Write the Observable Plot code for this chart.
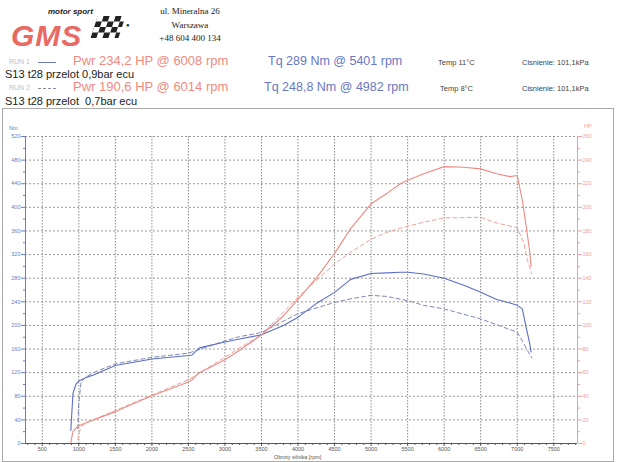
<!DOCTYPE html>
<html>
<head>
<meta charset="utf-8">
<script src="https://cdn.jsdelivr.net/npm/d3@7"></script>
<script src="https://cdn.jsdelivr.net/npm/@observablehq/plot@0.6"></script>
<style>
  html, body { margin: 0; padding: 0; background: #fff; }
  #page { position: relative; width: 620px; height: 462px; overflow: hidden; font-family: "Liberation Sans", Arial, sans-serif; }
  .abs { position: absolute; white-space: nowrap; }
  .addr { font-family: "Liberation Serif", serif; font-size: 9px; color: #222; text-align: center; width: 120px; }
  .run { font-size: 7px; color: #c0c0c0; }
  .pwr { font-size: 13px; color: #ef8a80; }
  .tq { font-size: 12.5px; color: #6878c0; }
  .small { font-size: 7.5px; color: #444; }
  .desc { font-size: 11px; color: #222; }
  #frame { position: absolute; left: 2px; top: 108px; width: 610px; height: 352px; border: 1px solid #aaa; }
  #chart { position: absolute; left: 0; top: 110px; }
  .flag { position: absolute; left: 94px; top: 16px; width: 28px; height: 22px;
    background: repeating-conic-gradient(#222 0 25%, #fff 0 50%) 0 0 / 12px 11px;
    transform: skewX(-18deg); }
</style>
</head>
<body>
<div id="page">
  <div class="abs" style="left:48px;top:7px;font-size:8px;font-style:italic;font-weight:bold;color:#222;">motor sport</div>
  <div class="abs" style="left:11px;top:21px;font-size:30px;line-height:30px;font-style:italic;font-weight:bold;color:#e86a62;letter-spacing:1px;">GMS</div>
  <div class="flag"></div>
  <div class="abs" style="left:126px;top:22px;font-size:6px;color:#222;">●</div>
  <div class="abs addr" style="left:130px;top:6px;">ul. Mineralna 26</div>
  <div class="abs addr" style="left:130px;top:20px;">Warszawa</div>
  <div class="abs addr" style="left:130px;top:33px;">+48 604 400 134</div>

  <div class="abs run" style="left:9px;top:58px;">RUN 1</div>
  <div class="abs" style="left:38px;top:62px;width:18px;border-top:1px solid #6878c0;"></div>
  <div class="abs pwr" style="left:73px;top:53px;">Pwr 234,2 HP @ 6008 rpm</div>
  <div class="abs tq" style="left:268px;top:54px;">Tq 289 Nm @ 5401 rpm</div>
  <div class="abs small" style="left:438px;top:58px;">Temp 11°C</div>
  <div class="abs small" style="left:522px;top:58px;">Cisnienie: 101,1kPa</div>
  <div class="abs desc" style="left:5px;top:68px;">S13 t28 przelot 0,9bar ecu</div>

  <div class="abs run" style="left:9px;top:84px;">RUN 2</div>
  <div class="abs" style="left:38px;top:88px;width:18px;border-top:1px dashed #8a8aa8;"></div>
  <div class="abs pwr" style="left:73px;top:79px;">Pwr 190,6 HP @ 6014 rpm</div>
  <div class="abs tq" style="left:264px;top:80px;">Tq 248,8 Nm @ 4982 rpm</div>
  <div class="abs small" style="left:440px;top:84px;">Temp 8°C</div>
  <div class="abs small" style="left:522px;top:84px;">Cisnienie: 101,1kPa</div>
  <div class="abs desc" style="left:5px;top:95px;">S13 t28 przelot &nbsp;0,7bar ecu</div>

  <div id="frame"></div>
  <div id="chart"></div>
  <div class="abs" style="left:9px;top:125px;font-size:5.5px;color:#6878c0;">Nm</div>
  <div class="abs" style="left:584px;top:123px;font-size:5.5px;color:#eea0a0;">HP</div>
  <div class="abs" style="left:274px;top:454px;font-size:5.5px;color:#555;">Obroty silnika [rpm]</div>
</div>
<script>
// ---- data read from the dyno sheet ----
const run1Rpm = [890, 920, 960, 1000, 1100, 1200, 1500, 2000, 2500, 2550, 2650, 3000, 3200, 3500, 3800, 4000, 4250, 4500, 4720, 5000, 5220, 5400, 5500, 5720, 6000, 6270, 6500, 6720, 6900, 7000, 7070, 7125, 7170, 7190];
const run1Tq  = [22, 85, 100, 106, 112, 116, 132, 143, 149, 150, 162, 172, 177, 184, 200, 214, 237, 256, 278, 288, 289, 290, 290, 287, 280, 268, 256, 244, 238, 234, 228, 195, 170, 155];
const run1Hp  = [1, 10, 13, 15, 17.5, 20, 27, 40.5, 52, 54, 60, 71, 79, 92, 108, 122, 140, 161, 182, 203, 212, 220, 223, 228.4, 234.5, 234, 232.6, 228.4, 226, 227, 206, 183, 163, 150];

const run2Rpm = [985, 1000, 1030, 1100, 1200, 1500, 2000, 2500, 3000, 3200, 3500, 4000, 4500, 4720, 5000, 5220, 5500, 5720, 6000, 6500, 6680, 7000, 7090, 7140, 7200];
const run2Tq  = [25, 70, 104, 113, 120, 135, 146, 153, 174, 181, 188, 220, 239, 245, 251, 249, 242, 234, 228, 211, 203, 188.5, 169, 158, 145];
const run2Hp  = [3, 8, 14, 17.5, 20, 28, 41, 54, 73, 81, 92, 124, 152, 162, 173, 179, 184, 187.4, 191, 191.6, 187.4, 182.6, 170, 155, 143.7];

const rpmTicks = d3.range(500, 7501, 500);
const rpmMinor = d3.range(300, 7801, 100).filter(v => v % 500 !== 0);
const nmTicks = d3.range(0, 521, 40);
const nmMinor = d3.range(20, 520, 40);

const run1 = run1Rpm.map((r, i) => ({rpm: r, tq: run1Tq[i], hp: run1Hp[i]}));
const run2 = run2Rpm.map((r, i) => ({rpm: r, tq: run2Tq[i], hp: run2Hp[i]}));

const blue = "#5b6ec4", blueD = "#8088b4", red = "#ee8a82", redD = "#eaa49c";

const chart = Plot.plot({
  width: 620, height: 352,
  marginTop: 26, marginBottom: 19, marginLeft: 25, marginRight: 43,
  x: {domain: [270, 7825], axis: null},
  y: {domain: [0, 520], axis: null},
  style: {fontFamily: "Liberation Sans, Arial, sans-serif", fontSize: "5.5px", background: "transparent", overflow: "visible"},
  marks: [
    Plot.ruleY(nmTicks.slice(1), {stroke: "#9a9a9a", strokeDasharray: "2,2"}),
    Plot.ruleX(rpmTicks, {stroke: "#8a8a8a", strokeDasharray: "1.5,1.5"}),
    Plot.ruleX([270], {stroke: "#6a7cc0"}),
    Plot.ruleX([7825], {stroke: "#eaa0a0"}),
    Plot.ruleY([0], {stroke: "#556"}),
    Plot.axisY({anchor: "left", ticks: nmTicks, tickSize: 4, tickPadding: 1, color: "#6a7cc0", tickFormat: d => String(d), label: null}),
    Plot.axisY({anchor: "left", ticks: nmMinor, tickSize: 2, color: "#6a7cc0", tickFormat: () => "", label: null}),
    Plot.axisY({anchor: "right", ticks: nmTicks, tickSize: 4, tickPadding: 1, color: "#eea0a0", tickFormat: d => String(d / 2), label: null}),
    Plot.axisY({anchor: "right", ticks: nmMinor, tickSize: 2, color: "#eea0a0", tickFormat: () => "", label: null}),
    Plot.axisX({anchor: "bottom", ticks: rpmTicks, tickSize: 3, tickPadding: 1, color: "#555", tickFormat: d => String(d), label: null}),
    Plot.axisX({anchor: "bottom", ticks: rpmMinor, tickSize: 2, color: "#556", tickFormat: () => "", label: null}),
    Plot.line(run2, {x: "rpm", y: "tq", stroke: blueD, strokeWidth: 1, strokeDasharray: "4,3"}),
    Plot.line(run2, {x: "rpm", y: d => d.hp * 2, stroke: redD, strokeWidth: 1, strokeDasharray: "4,3"}),
    Plot.line(run1, {x: "rpm", y: "tq", stroke: blue, strokeWidth: 1.1}),
    Plot.line(run1, {x: "rpm", y: d => d.hp * 2, stroke: red, strokeWidth: 1.1})
  ]
});
document.getElementById("chart").appendChild(chart);
</script>
</body>
</html>
